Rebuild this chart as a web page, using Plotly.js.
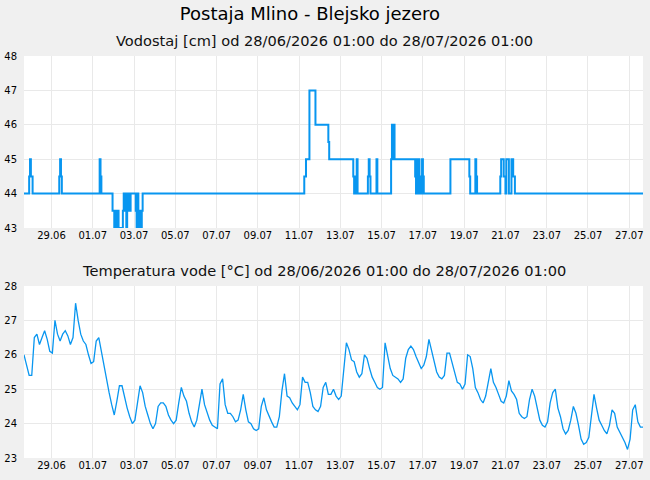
<!DOCTYPE html>
<html><head><meta charset="utf-8">
<script src="https://cdn.plot.ly/plotly-3.0.1.min.js"></script>
<style>html,body{margin:0;padding:0;background:#f0f0f0}#chart{width:650px;height:480px}</style>
</head><body><div id="chart"></div>
<script>
// Time base: 28/06/2026 01:00, offsets in hours
const startUTC = Date.UTC(2026, 5, 28, 1, 0);
const rangeStart = '2026-06-28 01:00';
const rangeEnd = '2026-07-28 01:00';

// X tick labels and their positions
const tickLabels = ['29.06','01.07','03.07','05.07','07.07','09.07','11.07','13.07','15.07','17.07','19.07','21.07','23.07','25.07','27.07'];
const tickPositions = ['2026-06-29 09:00','2026-07-01 09:00','2026-07-03 09:00','2026-07-05 09:00','2026-07-07 09:00','2026-07-09 09:00','2026-07-11 09:00','2026-07-13 09:00','2026-07-15 09:00','2026-07-17 09:00','2026-07-19 09:00','2026-07-21 09:00','2026-07-23 09:00','2026-07-25 09:00','2026-07-27 09:00'];

// Vodostaj [cm]: change points (hours from start) and levels
const levelHours = [0,6,7,8,10,41,42,43,44,88,89,90,103,105,106,108,109,110,115,116,117,118,119,120,121,122,123,124,130,131,132,133,134,135,136,137,138,326,328,332,339,354,355,383,384,386,387,388,400,401,402,403,410,411,427,428,429,430,431,455,456,457,458,459,460,461,463,464,465,496,518,519,525,526,527,554,555,558,560,561,564,567,569,571,720];
const levelValues = [44,44.5,45,44.5,44,44.5,45,44.5,44,45,44.5,44,43.5,43,43.5,43,43.5,43,43.5,44,43.5,44,43,44,43.5,44,43.5,44,43.5,43,44,43.5,43,43.5,43,43.5,44,44.5,45,47,46,45.5,45,44.5,44,44.5,45,44,44.5,45,44.5,44,45,44,45,46,45,46,45,44.5,44,45,44,45,44.5,44,45,44.5,44,45,44.5,44,45,44.5,44,44.5,45,44.5,44,45,44,45,44.5,44,44];

// Temperatura vode [°C]: one reading every 3 hours from start
const tempStepHours = 3;
const tempValues = [
 26.0,25.7,25.4,25.4,26.5,26.6,26.3,26.5,
 26.7,26.45,26.1,26.05,27.0,26.6,26.4,26.6,
 26.7,26.55,26.3,26.5,27.5,27.0,26.6,26.4,
 26.3,26.0,25.75,25.8,26.4,26.5,26.1,25.6,
 25.25,24.9,24.55,24.25,24.65,25.1,25.1,24.75,
 24.45,24.2,24.0,24.1,24.6,25.1,24.9,24.5,
 24.25,24.0,23.85,24.0,24.5,24.6,24.6,24.5,
 24.25,24.1,24.0,24.1,
 24.6,25.05,24.8,24.65,24.3,24.05,23.9,24.1,
 24.55,25.0,24.55,24.3,24.1,23.95,23.9,23.85,
 25.15,25.3,24.55,24.3,24.3,24.2,24.05,24.1,
 24.4,24.85,24.4,24.05,24.0,23.85,23.8,23.85,
 24.5,24.75,24.4,24.2,24.05,23.9,23.9,24.2,
 24.95,25.45,24.8,24.75,24.6,24.5,24.4,24.55,
 25.35,25.2,25.2,24.9,24.5,24.4,24.35,24.5,
 25.05,25.2,24.85,24.85,
 25.0,24.8,24.7,24.8,25.7,26.35,26.15,25.85,
 25.8,25.5,25.35,25.45,26.0,25.9,25.6,25.35,
 25.2,25.05,25.0,25.05,26.35,26.0,25.6,25.4,
 25.35,25.3,25.2,25.3,25.9,26.15,26.25,26.15,
 25.95,25.75,25.6,25.7,25.95,26.45,26.1,25.75,
 25.5,25.35,25.3,25.4,26.05,26.05,25.75,25.45,
 25.2,25.15,25.0,25.15,26.0,25.95,25.6,25.05,
 24.9,24.7,24.6,24.8,
 25.25,25.6,25.2,25.05,24.85,24.65,24.6,24.8,
 25.25,24.95,24.85,24.7,24.3,24.2,24.15,24.2,
 24.7,25.0,24.8,24.4,24.1,23.95,23.9,24.05,
 24.6,24.9,25.0,24.45,24.2,23.85,23.7,23.8,
 24.1,24.5,24.3,23.95,23.55,23.4,23.45,23.6,
 24.3,24.85,24.45,24.1,23.95,23.8,23.7,23.95,
 24.4,24.3,23.9,23.75,23.6,23.45,23.25,23.55,
 24.4,24.55,24.05,23.9,23.9
];

const mainTitle = 'Postaja Mlino - Blejsko jezero';
const levelTitle = 'Vodostaj [cm] od 28/06/2026 01:00 do 28/07/2026 01:00';
const tempTitle = 'Temperatura vode [°C] od 28/06/2026 01:00 do 28/07/2026 01:00';

function toDate(h) {
  return new Date(startUTC + h * 3600000).toISOString().slice(0, 16).replace('T', ' ');
}

const lineColor = 'rgb(8,150,240)';
const gridColor = '#e9e9e9';
const fontFam = 'DejaVu Sans, sans-serif';

const traces = [
  {
    x: levelHours.map(toDate), y: levelValues, xaxis: 'x', yaxis: 'y',
    type: 'scatter', mode: 'lines', line: {shape: 'hv', color: lineColor, width: 2},
    hoverinfo: 'skip'
  },
  {
    x: tempValues.map((v, i) => toDate(i * tempStepHours)), y: tempValues, xaxis: 'x2', yaxis: 'y2',
    type: 'scatter', mode: 'lines', line: {shape: 'linear', color: lineColor, width: 1.3},
    hoverinfo: 'skip'
  }
];

function xAxis(anchor) {
  return {
    anchor: anchor, type: 'date', range: [rangeStart, rangeEnd],
    tickmode: 'array', tickvals: tickPositions, ticktext: tickLabels,
    showgrid: true, gridcolor: gridColor, gridwidth: 1,
    zeroline: false, showline: false, ticks: '',
    tickfont: {family: fontFam, size: 10, color: '#000'}
  };
}
function yAxis(anchor, domain, range) {
  return {
    anchor: anchor, domain: domain, range: range, tickmode: 'linear', tick0: range[0], dtick: 1,
    showgrid: true, gridcolor: gridColor, gridwidth: 1,
    zeroline: false, showline: false, ticks: '', ticklabelstandoff: 6,
    tickfont: {family: fontFam, size: 10, color: '#000'}
  };
}

const layout = {
  width: 650, height: 480,
  paper_bgcolor: '#f0f0f0', plot_bgcolor: '#ffffff',
  margin: {l: 24, r: 7, t: 0, b: 0, pad: 0},
  showlegend: false,
  font: {family: fontFam, size: 10, color: '#000'},
  title: {
    text: mainTitle, font: {family: fontFam, size: 18, color: '#000'},
    xref: 'container', yref: 'container', x: 310 / 650, xanchor: 'center',
    y: 1 - 14 / 480, yanchor: 'middle'
  },
  xaxis: xAxis('y'),
  yaxis: yAxis('x', [1 - 228 / 480, 1 - 56 / 480], [43, 48]),
  xaxis2: xAxis('y2'),
  yaxis2: yAxis('x2', [1 - 458 / 480, 1 - 286 / 480], [23, 28]),
  annotations: [
    {text: levelTitle, xref: 'paper', yref: 'paper', x: (324 - 24) / 619, y: 1 - 40 / 480,
     xanchor: 'center', yanchor: 'middle', showarrow: false,
     font: {family: fontFam, size: 14.6, color: '#111'}},
    {text: tempTitle, xref: 'paper', yref: 'paper', x: (324 - 24) / 619, y: 1 - 270 / 480,
     xanchor: 'center', yanchor: 'middle', showarrow: false,
     font: {family: fontFam, size: 14.6, color: '#111'}}
  ]
};

Plotly.newPlot('chart', traces, layout, {staticPlot: true, displayModeBar: false});
</script></body></html>
